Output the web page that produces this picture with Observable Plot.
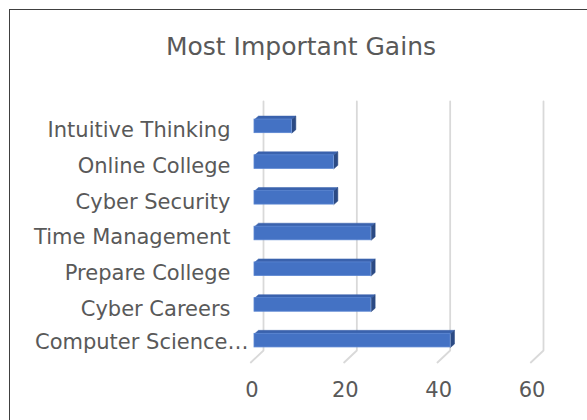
<!DOCTYPE html>
<html>
<head>
<meta charset="utf-8">
<script src="https://cdn.jsdelivr.net/npm/d3@7"></script>
<script src="https://cdn.jsdelivr.net/npm/@observablehq/plot@0.6"></script>
<style>
  html, body { margin: 0; padding: 0; background: #fff; overflow: hidden; width: 587px; height: 420px; }
  #frame { position: absolute; left: 9px; top: 9px; width: 620px; height: 440px; border: 1.5px solid #404040; box-sizing: border-box; }
  #title { position: absolute; left: 0; top: 34px; width: 602px; text-align: center; font-family: "DejaVu Sans", Verdana, sans-serif; font-size: 25px; line-height: 25px; color: #595959; }
  #chart { position: absolute; left: 0; top: 90px; }
</style>
</head>
<body>
<div id="frame"></div>
<div id="title">Most Important Gains</div>
<div id="chart"></div>
<script>
// ---- data ----
const categories = ["Computer Science…", "Cyber Careers", "Prepare College", "Time Management", "Cyber Security", "Online College", "Intuitive Thinking"];
const values = [42, 25, 25, 25, 17, 17, 8];
const xTicks = [0, 20, 40, 60];

// ---- layout ----
const W = 587, H = 330, ML = 254, MR = 53, MT = 18, MB = 62;
const xMax = 60;
const pxX = (W - ML - MR) / xMax;          // px per x unit
const pxY = (H - MT - MB) / 7;             // px per category step
const y0px = H - MB - 0.5 * pxY;           // pixel row of index 0
const halfBar = 6.8 / pxY;                 // half height of bar front face
const depX = 4 / pxX, depY = 3.5 / pxY;    // bar 3D depth
const wallX = 9 / pxX;                     // back wall offset
const floorX = -3.7 / pxX;                 // front floor offset
const gridTop = (y0px - 11) / pxY;         // top of gridlines
const gridBottom = (y0px - 260) / pxY;     // where wall meets floor
const floorFront = (y0px - 272) / pxY;     // front edge of floor

const bars = categories.map((c, i) => ({c, i, v: values[i]}));

const topFaces = bars.flatMap(d => [
  {k: d.c, x: 0, y: d.i + halfBar},
  {k: d.c, x: depX, y: d.i + halfBar + depY},
  {k: d.c, x: d.v + depX, y: d.i + halfBar + depY},
  {k: d.c, x: d.v, y: d.i + halfBar}
]);
const sideFaces = bars.flatMap(d => [
  {k: d.c, x: d.v, y: d.i + halfBar},
  {k: d.c, x: d.v + depX, y: d.i + halfBar + depY},
  {k: d.c, x: d.v + depX, y: d.i - halfBar + depY},
  {k: d.c, x: d.v, y: d.i - halfBar}
]);

const grid = xTicks.flatMap(t => [
  {t, x: t + wallX, y: gridTop},
  {t, x: t + wallX, y: gridBottom},
  {t, x: t + floorX, y: floorFront}
]);

const idx = d3.range(categories.length);

const chart = Plot.plot({
  width: W, height: H,
  marginLeft: ML, marginRight: MR, marginTop: MT, marginBottom: MB,
  style: {fontFamily: "'DejaVu Sans', Verdana, sans-serif", fontSize: "21px", color: "#595959", background: "transparent", overflow: "visible"},
  x: {domain: [0, xMax]},
  y: {domain: [-0.5, 6.5]},
  marks: [
    Plot.line(grid, {x: "x", y: "y", z: "t", stroke: "#d9d9d9", strokeWidth: 1.8}),
    Plot.line(topFaces, {x: "x", y: "y", z: "k", fill: "#3a62ad", stroke: "#3a62ad", strokeWidth: 0.5}),
    Plot.line(sideFaces, {x: "x", y: "y", z: "k", fill: "#2b4a84", stroke: "#2b4a84", strokeWidth: 0.5}),
    Plot.rect(bars, {x1: 0, x2: "v", y1: d => d.i - halfBar, y2: d => d.i + halfBar, fill: "#4472c4", stroke: "#5b86d2", strokeWidth: 0.8}),
    Plot.axisX(xTicks, {tickSize: 0, tickPadding: 24, dx: -2.5, label: null}),
    Plot.axisY(idx.filter(i => i > 0), {tickFormat: i => categories[i], tickSize: 0, tickPadding: 24, dy: 4, label: null}),
    Plot.axisY(idx.filter(i => i === 0), {tickFormat: i => categories[i], tickSize: 0, tickPadding: 6, dy: 2, label: null})
  ]
});
document.getElementById("chart").appendChild(chart);
</script>
</body>
</html>
